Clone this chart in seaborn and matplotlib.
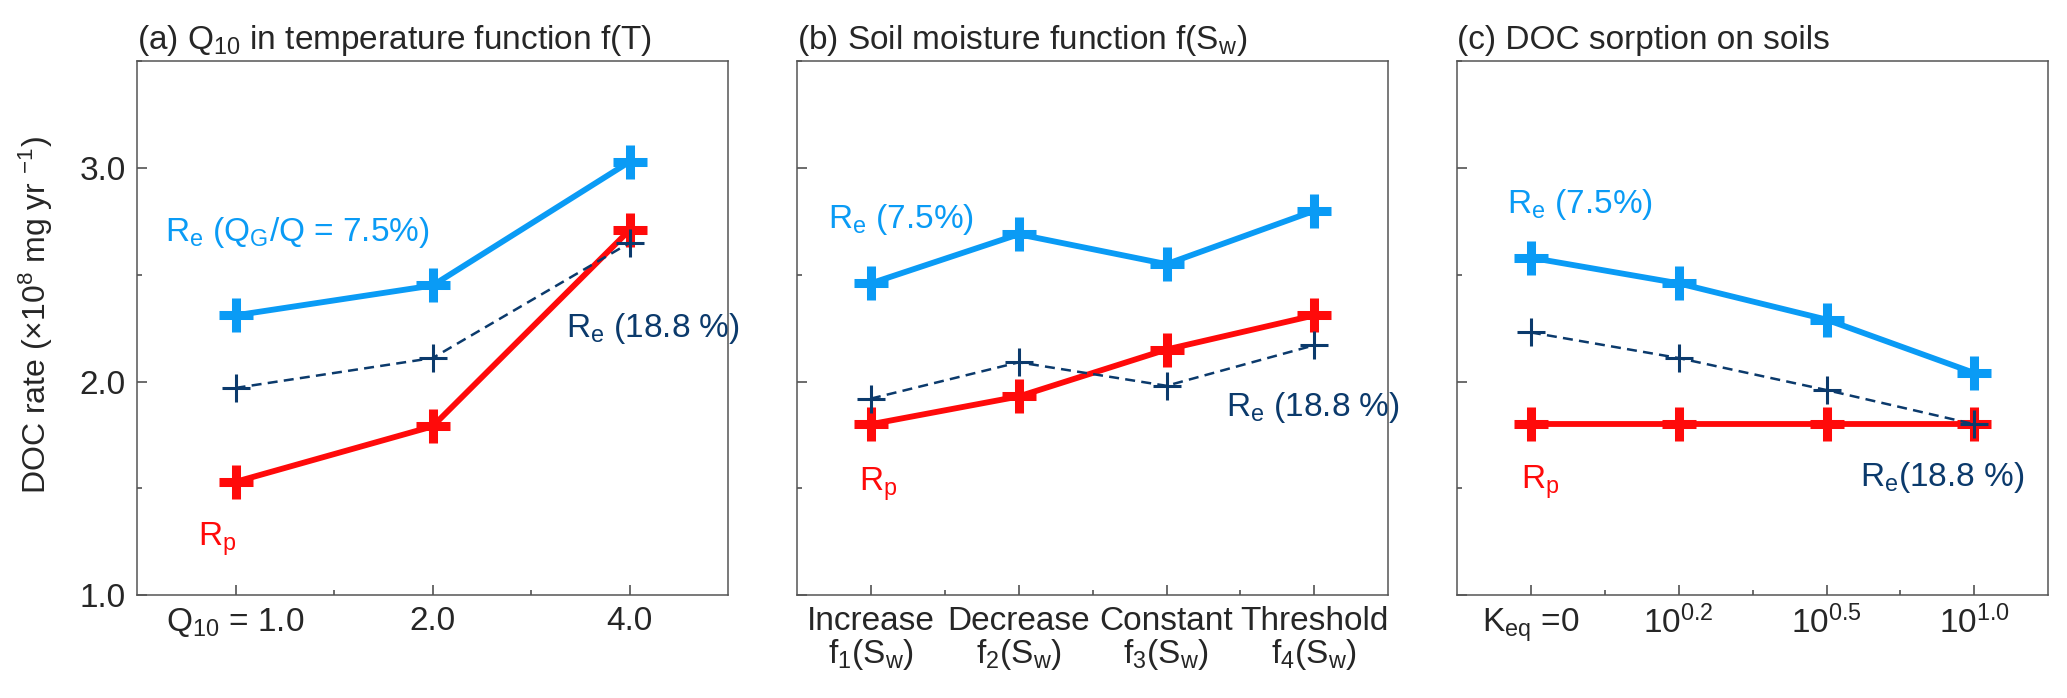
import matplotlib
matplotlib.use('Agg')
import numpy as np
import pandas as pd
import seaborn as sns
import matplotlib.pyplot as plt
from matplotlib.ticker import MultipleLocator, FixedLocator

# ---------------------------------------------------------------- data
q10_labels = [r'$\mathregular{Q_{10}}$ = 1.0', '2.0', '4.0']
q10_re75 = [2.31, 2.45, 3.03]
q10_re188 = [1.97, 2.11, 2.65]
q10_rp = [1.53, 1.79, 2.71]

sw_labels = ['Increase\n' + r'$\mathregular{f_1(S_w)}$',
             'Decrease\n' + r'$\mathregular{f_2(S_w)}$',
             'Constant\n' + r'$\mathregular{f_3(S_w)}$',
             'Threshold\n' + r'$\mathregular{f_4(S_w)}$']
sw_re75 = [2.46, 2.69, 2.55, 2.80]
sw_re188 = [1.92, 2.09, 1.98, 2.17]
sw_rp = [1.80, 1.93, 2.15, 2.31]

keq_labels = [r'$\mathregular{K_{eq}}$ =0', r'$\mathregular{10^{0.2}}$',
              r'$\mathregular{10^{0.5}}$', r'$\mathregular{10^{1.0}}$']
keq_re75 = [2.58, 2.46, 2.29, 2.04]
keq_re188 = [2.23, 2.11, 1.96, 1.80]
keq_rp = [1.80, 1.80, 1.80, 1.80]

titles = [r'(a) $\mathregular{Q_{10}}$ in temperature function f(T)',
          r'(b) Soil moisture function f($\mathregular{S_w}$)',
          '(c) DOC sorption on soils']

BLUE = '#0A9BF5'
RED = '#FF0A0A'
NAVY = '#0B3A6C'

sns.set_style('ticks')
plt.rcParams['font.family'] = ['Liberation Sans', 'DejaVu Sans']
plt.rcParams['mathtext.default'] = 'regular'

fig = plt.figure(figsize=(20.67, 6.98), dpi=100)
lefts = [0.0663, 0.3856, 0.7049]
axes = [fig.add_axes([l, 0.1476, 0.286, 0.7645]) for l in lefts]

panels = [
    (q10_labels, q10_re75, q10_re188, q10_rp),
    (sw_labels, sw_re75, sw_re188, sw_rp),
    (keq_labels, keq_re75, keq_re188, keq_rp),
]

for ax, (labels, re75, re188, rp), title in zip(axes, panels, titles):
    df = pd.DataFrame({'pos': np.arange(len(labels)), 're75': re75,
                       're188': re188, 'rp': rp})
    sns.lineplot(data=df, x='pos', y='re75', ax=ax, color=BLUE, lw=4.2,
                 marker='+', markersize=25, markeredgewidth=6.5,
                 markeredgecolor=BLUE)
    sns.lineplot(data=df, x='pos', y='rp', ax=ax, color=RED, lw=4.2,
                 marker='+', markersize=25, markeredgewidth=6.5,
                 markeredgecolor=RED)
    sns.lineplot(data=df, x='pos', y='re188', ax=ax, color=NAVY, lw=1.8,
                 linestyle=(0, (4, 2.5)), marker='+', markersize=20,
                 markeredgewidth=2.2, markeredgecolor=NAVY)

    ax.set_xlim(-0.5, len(labels) - 0.5)
    ax.set_ylim(1.0, 3.5)
    ax.set_xticks(df['pos'])
    ax.set_xticklabels(labels, fontsize=24, linespacing=1.0)
    ax.xaxis.set_minor_locator(FixedLocator(df['pos'][:-1] + 0.5))
    ax.yaxis.set_major_locator(MultipleLocator(1.0))
    ax.yaxis.set_minor_locator(MultipleLocator(0.5))
    ax.tick_params(which='both', direction='in', width=1.1, color='#444444')
    ax.tick_params(which='major', length=7, labelsize=24, pad=8)
    ax.tick_params(which='minor', length=3.5)
    for sp in ax.spines.values():
        sp.set_visible(True)
        sp.set_color('#555555')
        sp.set_linewidth(1.1)
    ax.set_title(title, loc='left', fontsize=24, pad=9)
    ax.set_xlabel('')
    ax.set_ylabel('')

axes[0].set_yticks([1.0, 2.0, 3.0])
axes[0].set_yticklabels(['1.0', '2.0', '3.0'])
axes[0].set_ylabel(r'DOC rate (×10$^{8}$ mg yr $^{-1}$)', fontsize=23)
axes[0].yaxis.set_label_coords(-0.139, 0.525)
for ax in axes[1:]:
    ax.set_yticklabels([])

# in-panel labels
fs = 24
axes[0].text(-0.36, 2.66, r'R$_e$ (Q$_G$/Q = 7.5%)', color=BLUE, fontsize=fs)
axes[0].text(-0.19, 1.23, r'R$_p$', color=RED, fontsize=fs)
axes[0].text(1.675, 2.21, r'R$_e$ (18.8 %)', color=NAVY, fontsize=fs)

axes[1].text(-0.29, 2.72, r'R$_e$ (7.5%)', color=BLUE, fontsize=fs)
axes[1].text(-0.08, 1.49, r'R$_p$', color=RED, fontsize=fs)
axes[1].text(2.405, 1.84, r'R$_e$ (18.8 %)', color=NAVY, fontsize=fs)

axes[2].text(-0.16, 2.79, r'R$_e$ (7.5%)', color=BLUE, fontsize=fs)
axes[2].text(-0.07, 1.50, r'R$_p$', color=RED, fontsize=fs)
axes[2].text(2.227, 1.51, r'R$_e$(18.8 %)', color=NAVY, fontsize=fs)

fig.savefig('out.png', dpi=100)
